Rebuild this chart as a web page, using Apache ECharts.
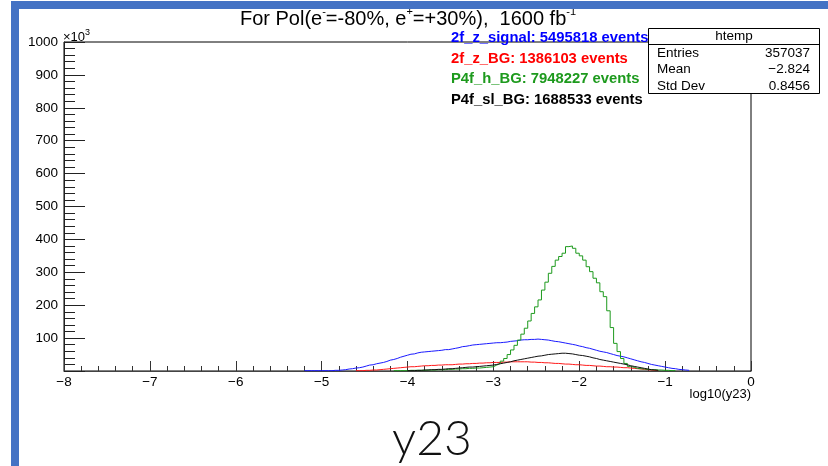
<!DOCTYPE html>
<html><head><meta charset="utf-8">
<script src="https://cdn.jsdelivr.net/npm/echarts@6/dist/echarts.min.js"></script>
<style>html,body{margin:0;padding:0;background:#fff}#c{width:828px;height:466px}</style>
</head><body><div id="c"></div>
<script>
// histogram binning: 200 bins on [-8, 0]
const binLow = -8;
const binWidth = 0.04;

// values in units of 10^3 events per bin
const signalStart = 70;
const signalValues = [1,1,1,1,1,1,1,1,2,2, 3,4,6,7,9,10,12,15,18,19, 22,24,26,29,33,35,38,42,45,48,
  51,52,55,57,58,59,60,61,62,63, 65,65,67,69,71,74,75,77,79,80, 81,82,83,84,85,86,86,87,88,90,
  91,92,94,95,95,96,96,97,96,95, 94,92,90,89,87,85,83,81,79,76, 74,71,69,66,63,60,58,56,53,50,
  47,45,43,40,37,34,31,28,26,23, 20,18,16,14,12,10,8,7,5,4, 3,2];

const zbgStart = 85;
const zbgValues = [1,1,2,2,3,3,4,5,6,7, 8,9,10,11,12,13,13,14,15,16, 16,17,17,18,18,19,19,19,20,21,
  21,22,22,23,23,24,24,25,25,26, 26,26,27,27,28,28,28,28,28,28, 27,27,26,26,25,25,24,23,23,22,
  21,21,20,19,19,18,17,17,16,15, 15,14,13,13,12,12,11,10,10,9, 8,7,6,5,4,3,2,1];

const hbgStart = 96;
const hbgValues = [1,1,1,1,2,2,2,2,2,3, 3,3,4,4,4,5,5,6,6,7, 7,8,8,9,9,10,11,12,13,18,
  23,30,38,50,64,78,94,112,130,152, 175,195,216,246,270,297,318,337,348,358,
  378,380,373,358,350,337,317,302,282,268, 241,226,183,132,84,59,38,23,14,11,
  8,7,6,5,4,4,3,3,2,2, 1,1];

const slbgStart = 100;
const slbgValues = [1,1,2,2,3,3,4,4,5,5, 6,7,7,8,9,10,11,12,12,13, 14,15,16,17,18,20,22,24,26,28,
  31,33,35,37,39,41,43,45,46,48, 50,51,52,53,54,54,53,52,50,48,
  47,45,43,40,38,35,33,31,29,27, 25,23,21,19,16,14,12,10,8,6, 4,3,2];

const legendLines = ['2f_z_signal: 5495818 events','2f_z_BG: 1386103 events','P4f_h_BG: 7948227 events','P4f_sl_BG: 1688533 events'];
const statsTitle = 'htemp';
const statsNames = ['Entries','Mean','Std Dev'];
const statsValues = ['357037','\u22122.824','0.8456'];
const xTicks = [-8,-7,-6,-5,-4,-3,-2,-1,0];
const yTicks = [100,200,300,400,500,600,700,800,900,1000];

function histPoints(start, vals){
  const pts = vals.map((v,k)=>[binLow + (start+k)*binWidth, v]);
  pts.push([binLow + (start+vals.length)*binWidth, 0]);
  return pts;
}

const FONT = '"Liberation Sans", Arial, Helvetica, sans-serif';
const colors = ['#0000ff','#ff0000','#1d9a1d','#000000'];

const chart = echarts.init(document.getElementById('c'), null, {renderer:'canvas'});

const graphics = [
  {type:'rect', shape:{x:11,y:1,width:8,height:466}, style:{fill:'#4472c4'}, z:200},
  {type:'rect', shape:{x:11,y:1,width:817,height:8}, style:{fill:'#4472c4'}, z:200},
  {type:'text', z:150, style:{x:408, y:18, align:'center', verticalAlign:'middle',
    text:'{m|For Pol(e}{s|-}{m|=-80%, e}{s|+}{m|=+30%),  1600 fb}{s|-1}',
    rich:{m:{fontSize:20, fontFamily:FONT, fill:'#000', lineHeight:23, verticalAlign:'bottom'},
          s:{fontSize:11, fontFamily:FONT, fill:'#000', lineHeight:23, verticalAlign:'top'}}}},
  {type:'text', z:150, style:{x:63, y:36, align:'left', verticalAlign:'middle',
    text:'{m|\u00d710}{s|3}',
    rich:{m:{fontSize:13, fontFamily:FONT, fill:'#000', lineHeight:15, verticalAlign:'bottom'},
          s:{fontSize:9, fontFamily:FONT, fill:'#000', lineHeight:15, verticalAlign:'top'}}}},
  {type:'rect', z:160, shape:{x:648.5,y:28.5,width:171,height:65}, style:{fill:'#fff', stroke:'#000', lineWidth:1}},
  {type:'line', z:161, shape:{x1:648.5,y1:44.5,x2:819.5,y2:44.5}, style:{stroke:'#000', lineWidth:1}},
  {type:'text', z:162, style:{x:734, y:36.5, align:'center', verticalAlign:'middle', text:statsTitle, fontSize:13.5, fontFamily:FONT, fill:'#000'}},
  {type:'text', z:150, style:{x:751, y:394, align:'right', verticalAlign:'middle', text:'log10(y23)', fontSize:13, fontFamily:FONT, fill:'#000'}},
  {type:'text', z:150, style:{x:432, y:440, align:'center', verticalAlign:'middle', text:'y23', fontSize:48, fontWeight:300, fontFamily:'Lato, "Open Sans", "Noto Sans", sans-serif', fill:'#111'}}
];
statsNames.forEach((n,i)=>{
  const y = 53 + i*16.5;
  graphics.push({type:'text', z:162, style:{x:657, y:y, align:'left', verticalAlign:'middle', text:n, fontSize:13.5, fontFamily:FONT, fill:'#000'}});
  graphics.push({type:'text', z:162, style:{x:810, y:y, align:'right', verticalAlign:'middle', text:statsValues[i], fontSize:13.5, fontFamily:FONT, fill:'#000'}});
});
legendLines.forEach((t,i)=>{
  graphics.push({type:'text', z:150, style:{x:451, y:38 + i*20.7, align:'left', verticalAlign:'middle', text:t, fontSize:14.8, fontWeight:'bold', fontFamily:FONT, fill:colors[i]}});
});

const option = {
  animation:false,
  backgroundColor:'#fff',
  grid:{left:64, right:77, top:42, bottom:95, show:true, borderColor:'#000', borderWidth:1, backgroundColor:'transparent'},
  xAxis:{type:'value', min:-8, max:0, interval:1,
    axisLine:{show:true, onZero:false, lineStyle:{color:'#444', width:1.2}},
    axisTick:{show:true, inside:true, length:10, lineStyle:{color:'#333'}},
    minorTick:{show:true, splitNumber:5, length:5, lineStyle:{color:'#333'}},
    splitLine:{show:false},
    axisLabel:{margin:4, fontSize:13.5, fontFamily:FONT, color:'#000',
      formatter:v=> xTicks.includes(v) ? (v===0?'0':'\u2212'+Math.abs(v)) : ''}},
  yAxis:{type:'value', min:0, max:1000, interval:100,
    axisLine:{show:true, onZero:false, lineStyle:{color:'#222', width:1}},
    axisTick:{show:true, inside:true, length:21, lineStyle:{color:'#222'}},
    minorTick:{show:true, splitNumber:5, length:11, lineStyle:{color:'#222'}},
    splitLine:{show:false},
    axisLabel:{margin:6, fontSize:13.5, fontFamily:FONT, color:'#000',
      formatter:v=> yTicks.includes(v) ? String(v) : ''}},
  series:[
    {name:'2f_z_signal', type:'line', step:'end', showSymbol:false, data:histPoints(signalStart, signalValues), lineStyle:{color:'#1a1aff', width:1}, itemStyle:{color:'#1a1aff'}, z:3},
    {name:'2f_z_BG', type:'line', step:'end', showSymbol:false, data:histPoints(zbgStart, zbgValues), lineStyle:{color:'#ff1a1a', width:1}, itemStyle:{color:'#ff1a1a'}, z:3},
    {name:'P4f_h_BG', type:'line', step:'end', showSymbol:false, data:histPoints(hbgStart, hbgValues), lineStyle:{color:'#1d9a1d', width:1}, itemStyle:{color:'#1d9a1d'}, z:3},
    {name:'P4f_sl_BG', type:'line', step:'end', showSymbol:false, data:histPoints(slbgStart, slbgValues), lineStyle:{color:'#111', width:1}, itemStyle:{color:'#111'}, z:3}
  ],
  graphic:graphics
};
chart.setOption(option);
</script></body></html>
